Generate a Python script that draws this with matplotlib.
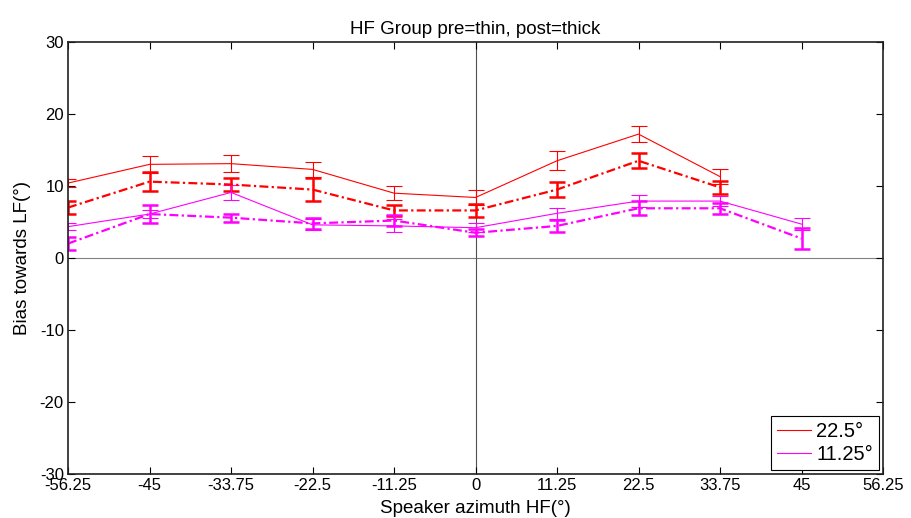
import numpy as np
import matplotlib
matplotlib.use("Agg")
import matplotlib.pyplot as plt
from matplotlib.lines import Line2D

plt.rcParams['font.family'] = ['Liberation Sans', 'DejaVu Sans']

azimuth = [-56.25, -45, -33.75, -22.5, -11.25, 0, 11.25, 22.5, 33.75, 45]

# 22.5 deg group (no value at 45)
pre_22 = [10.4, 13.0, 13.1, 12.3, 9.0, 8.4, 13.5, 17.2, 11.3, np.nan]
pre_22_err = [0.6, 1.2, 1.2, 1.05, 1.0, 1.05, 1.35, 1.1, 1.0, np.nan]
post_22 = [7.0, 10.6, 10.2, 9.5, 6.6, 6.6, 9.5, 13.5, 9.8, np.nan]
post_22_err = [0.85, 1.3, 0.95, 1.55, 0.8, 0.85, 1.1, 1.05, 0.85, np.nan]

# 11.25 deg group
pre_11 = [4.35, 6.1, 9.1, 4.6, 4.45, 4.2, 6.2, 7.9, 7.9, 4.7]
pre_11_err = [0.5, 0.6, 1.1, 0.75, 0.9, 0.6, 0.75, 0.85, 0.7, 0.85]
post_11 = [2.0, 6.1, 5.6, 4.8, 5.2, 3.5, 4.45, 6.9, 6.9, 2.7]
post_11_err = [0.9, 1.2, 0.55, 0.75, 0.7, 0.5, 0.8, 1.0, 0.8, 1.45]

xticks = np.arange(-56.25, 56.26, 11.25)
xticklabels = ["-56.25", "-45", "-33.75", "-22.5", "-11.25", "0",
               "11.25", "22.5", "33.75", "45", "56.25"]
yticks = [-30, -20, -10, 0, 10, 20, 30]
yticklabels = ["-30", "-20", "-10", "0", "10", "20", "30"]
legend_labels = ["22.5°", "11.25°"]

fig = plt.figure(figsize=(9.12, 5.18), dpi=100)
ax = fig.add_axes([0.0746, 0.085, 0.8936, 0.834])

ax.axhline(0, color="#808080", lw=0.8, zorder=1)
ax.axvline(0, color="#505050", lw=0.8, zorder=1)

red = "#ff0000"
mag = "#ff00ff"
dashdot = (0, (4, 1.5, 1, 1.5))
ax.errorbar(azimuth, pre_22, yerr=pre_22_err, color=red, lw=0.8,
            elinewidth=0.8, capsize=6, capthick=0.8)
ax.errorbar(azimuth, post_22, yerr=post_22_err, color=red, lw=1.6, ls=dashdot,
            elinewidth=1.8, capsize=6, capthick=1.8)
ax.errorbar(azimuth, pre_11, yerr=pre_11_err, color=mag, lw=0.8,
            elinewidth=0.8, capsize=6, capthick=0.8)
ax.errorbar(azimuth, post_11, yerr=post_11_err, color=mag, lw=1.6, ls=dashdot,
            elinewidth=1.8, capsize=6, capthick=1.8)

ax.set_xlim(-56.25, 56.25)
ax.set_ylim(-30, 30)
ax.set_xticks(xticks)
ax.set_xticklabels(xticklabels)
ax.set_yticks(yticks)
ax.set_yticklabels(yticklabels)
ax.tick_params(direction="in", top=True, right=True, labelsize=12, length=5, pad=3)
for s in ax.spines.values():
    s.set_linewidth(1.2)
    s.set_color("#202020")

ax.set_title("HF Group pre=thin, post=thick", fontsize=13.5, pad=6)
ax.set_xlabel("Speaker azimuth HF(°)", fontsize=13.5, labelpad=5)
ax.set_ylabel("Bias towards LF(°)", fontsize=13.5, labelpad=6)

handles = [Line2D([], [], color=red, lw=0.8), Line2D([], [], color=mag, lw=0.8)]
leg = ax.legend(handles, legend_labels, loc="lower right", fontsize=14.5,
                fancybox=False, framealpha=1, edgecolor="black",
                borderaxespad=0.2, handlelength=1.7, handletextpad=0.25,
                borderpad=0.3, labelspacing=0.2)
leg.get_frame().set_linewidth(0.8)

fig.savefig("out.png", dpi=100)
